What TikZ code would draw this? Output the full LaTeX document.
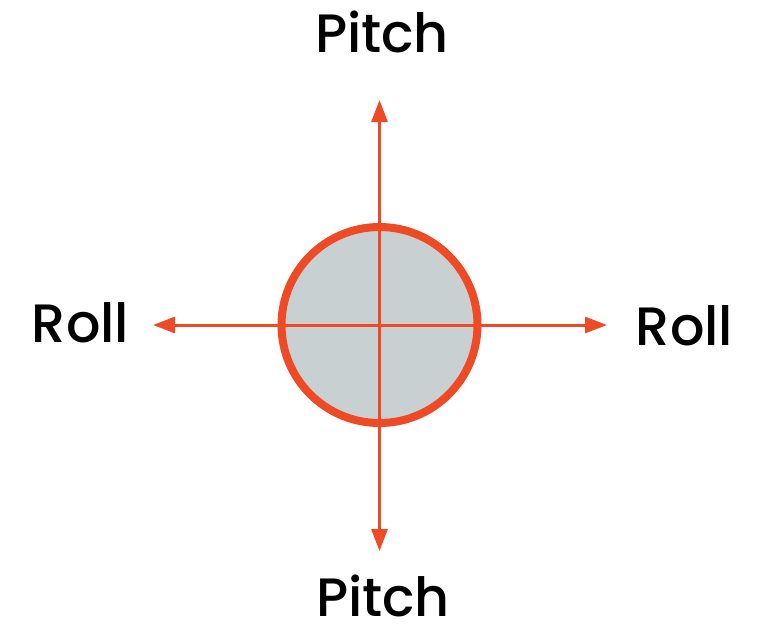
\documentclass[tikz,border=0pt]{standalone}
\usepackage{fontspec}
\setmainfont{Poppins}[UprightFont=* Medium]
\usetikzlibrary{arrows.meta}
\definecolor{axisred}{HTML}{EE4A26}
\definecolor{ballgray}{HTML}{C9D0D2}
\tikzset{
  axis/.style={draw=axisred, line width=3pt, -{Triangle[length=22pt,width=16pt]}},
  lbl/.style={font=\fontsize{54}{54}\selectfont, anchor=base, inner sep=0pt, text depth=0pt},
}
\begin{document}
\begin{tikzpicture}[x=1pt,y=-1pt]
\useasboundingbox (0,0) rectangle (759,623);
\coordinate (c) at (379.5,325);
\node[circle, draw=axisred, line width=8pt, fill=ballgray, minimum size=196pt, inner sep=0pt] (ball) at (c) {};
\coordinate (top) at (379.5,100);
\coordinate (bot) at (379.5,551);
\coordinate (lft) at (153,325);
\coordinate (rgt) at (607,325);
\draw[axis] (ball.center) -- (top);
\draw[axis] (ball.center) -- (bot);
\draw[axis] (ball.center) -- (lft);
\draw[axis] (ball.center) -- (rgt);
\node[lbl] (pt) at (382,53) {Pitch};
\node[lbl] (pb) at (383,616) {Pitch};
\node[lbl] (rl) at (80.5,342) {Roll};
\node[lbl] (rr) at (684.5,345) {Roll};
\end{tikzpicture}
\end{document}
